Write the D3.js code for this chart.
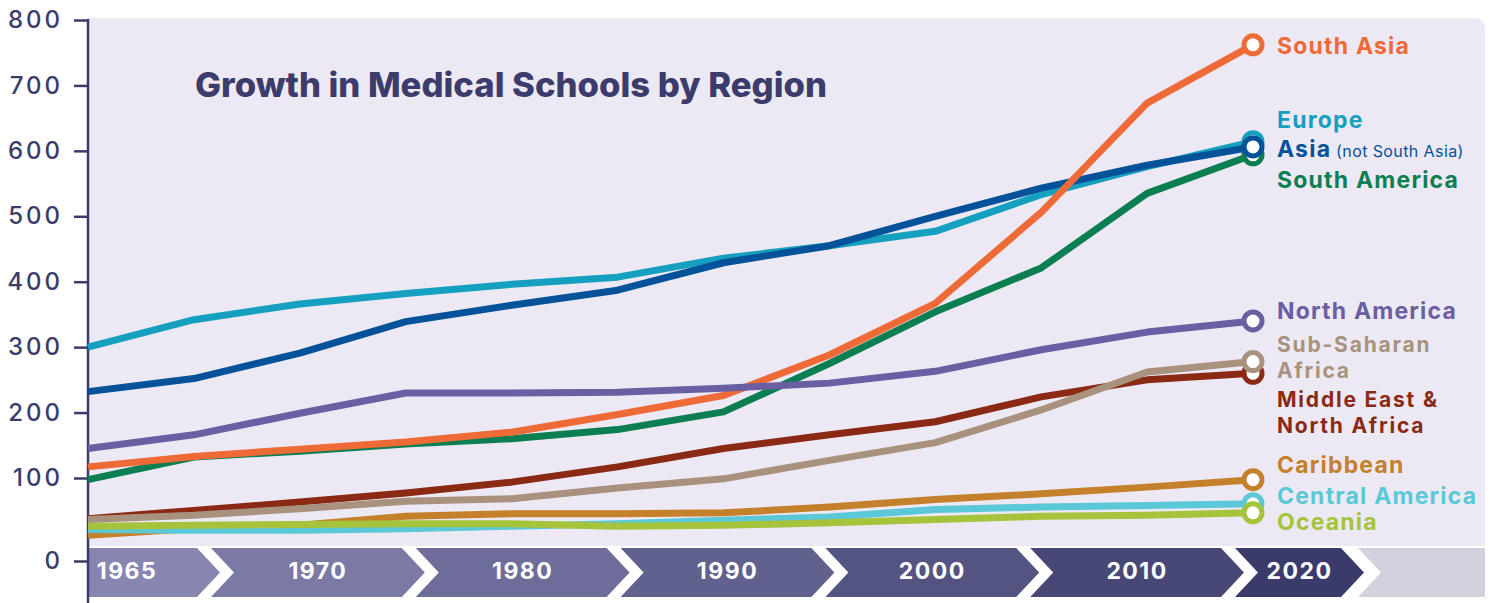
<!DOCTYPE html>
<html>
<head>
    <meta charset="utf-8">
    <title>Growth in Medical Schools by Region</title>
    <style>
        body { margin: 0; background: #fff; }
        svg { display: block; font-family: Inter, "Open Sans", sans-serif; }
    </style>
    <script src="https://cdn.jsdelivr.net/npm/d3@7/dist/d3.min.js"></script>
</head>
<body>
<script>

    // data (number of medical schools)
    var years = [1965, 1970, 1975, 1980, 1985, 1990, 1995, 2000, 2005, 2010, 2015, 2020]
    var southAsia      = [117, 133, 144, 155, 170, 197, 226, 288, 367, 506, 673, 762]
    var europe         = [300, 342, 366, 382, 396, 407, 436, 455, 477, 533, 576, 614]
    var asia           = [232, 252, 291, 339, 364, 387, 429, 455, 500, 543, 578, 606]
    var southAmerica   = [98, 132, 141, 152, 160, 174, 201, 275, 354, 421, 535, 594]
    var northAmerica   = [145, 166, 199, 230, 230, 231, 237, 245, 263, 296, 323, 340]
    var subSaharan     = [50, 55, 63, 72, 75, 88, 99, 127, 154, 204, 262, 278]
    var middleEast     = [51, 61, 71, 82, 95, 117, 145, 166, 186, 224, 250, 260]
    var caribbean      = [31, 39, 43, 54, 57, 57, 58, 65, 74, 81, 89, 98]
    var centralAmerica = [38, 37, 37, 39, 42, 45, 49, 53, 62, 65, 67, 69]
    var oceania        = [42, 43, 44, 45, 45, 42, 43, 46, 50, 54, 55, 58]

    var yTicks = [0, 100, 200, 300, 400, 500, 600, 700, 800]
    var periodLabels = ['1965', '1970', '1980', '1990', '2000', '2010', '2020']
    var title = 'Growth in Medical Schools by Region'

    // drawing order: bottom first
    var series = [
        {name: 'Europe', values: europe, color: '#16a0bf', label: ['Europe'], nudge: -14},
        {name: 'South America', values: southAmerica, color: '#0c7f52', label: ['South America'], nudge: 33},
        {name: 'Asia', values: asia, color: '#04539a', label: ['Asia'], note: ' (not South Asia)', nudge: 10},
        {name: 'South Asia', values: southAsia, color: '#ee6a36', label: ['South Asia'], nudge: 9},
        {name: 'North America', values: northAmerica, color: '#6a5fa3', label: ['North America'], nudge: -2},
        {name: 'Middle East', values: middleEast, color: '#8a2a14', label: ['Middle East &', 'North Africa'], nudge: 34},
        {name: 'Sub-Saharan Africa', values: subSaharan, color: '#a8927e', label: ['Sub-Saharan', 'Africa'], nudge: -10},
        {name: 'Caribbean', values: caribbean, color: '#c4802a', label: ['Caribbean'], nudge: -7},
        {name: 'Central America', values: centralAmerica, color: '#5bc8d7', label: ['Central America'], nudge: 0},
        {name: 'Oceania', values: oceania, color: '#a5c33b', label: ['Oceania'], nudge: 17}
    ]

    var view_width = 1494,
        view_height = 603,
        axis_x = 88,
        panel_top = 18,
        panel_right = 1485,
        band_top = 548,
        band_bottom = 597

    var navy = '#3b3c6c'

    var svg = d3.select('body').append('svg')
        .attr('width', view_width)
        .attr('height', view_height)

    var x = d3.scaleLinear().domain([1965, 2020]).range([axis_x, 1253])
    // the value axis is stretched below 100 in the original
    var y = d3.scaleLinear().domain([0, 100, 800]).range([561, 478, 20])

    // lavender panel, rounded at top right only
    var r = 12
    svg.append('path')
        .attr('d', 'M' + axis_x + ',' + panel_top +
            'H' + (panel_right - r) +
            'Q' + panel_right + ',' + panel_top + ' ' + panel_right + ',' + (panel_top + r) +
            'V' + band_bottom + 'H' + axis_x + 'Z')
        .attr('fill', '#ece9f4')

    // title
    svg.append('text')
        .attr('x', 195)
        .attr('y', 97)
        .attr('fill', navy)
        .attr('font-size', 34)
        .attr('font-weight', 800)
        .attr('textLength', 632)
        .attr('lengthAdjust', 'spacingAndGlyphs')
        .text(title)

    // period band at the bottom
    svg.append('rect')
        .attr('x', axis_x).attr('y', band_top - 2)
        .attr('width', view_width - axis_x).attr('height', view_height - band_top + 2)
        .attr('fill', '#ffffff')

    var bandScale = d3.scaleLinear().domain([0, 5]).range([197, 1221])
    var gap = 14, tip = 23, mid = (band_top + band_bottom) / 2
    var shade = d3.interpolateRgb('#8786b1', '#3b3b6b')

    var chevrons = periodLabels.map(function (lab, i) {
        var left = i === 0 ? axis_x : bandScale(i - 1) + gap
        var right = i === periodLabels.length - 1 ? bandScale(5) + 120 : bandScale(i)
        return {label: lab, left: left, right: right, i: i, notch: i > 0}
    })
    chevrons.push({label: '', left: bandScale(5) + 120 + gap + 3, right: panel_right, i: 7, notch: true, flat: true})

    var chev = svg.append('g').selectAll('g').data(chevrons).enter().append('g')
    chev.append('path')
        .attr('d', function (d) {
            var p = 'M' + d.left + ',' + band_top + 'H' + d.right
            p += d.flat ? 'V' + band_bottom : 'L' + (d.right + tip) + ',' + mid + 'L' + d.right + ',' + band_bottom
            p += 'H' + d.left
            if (d.notch) p += 'L' + (d.left + tip) + ',' + mid
            return p + 'Z'
        })
        .attr('fill', function (d) { return d.flat ? '#d4d1df' : shade(d.i / 6) })
    chev.append('text')
        .attr('x', function (d) { return d.i === 0 ? d.left + 39 : (d.left + d.right) / 2 + tip / 2 })
        .attr('y', 579)
        .attr('text-anchor', 'middle')
        .attr('fill', '#ffffff')
        .attr('font-size', 23)
        .attr('font-weight', 700)
        .attr('letter-spacing', 1.5)
        .text(function (d) { return d.label })

    // y axis
    var yAxis = d3.axisLeft(y).tickValues(yTicks).tickSize(14).tickPadding(11).tickSizeOuter(0)
    var ax = svg.append('g')
        .attr('transform', 'translate(' + axis_x + ',0)')
        .call(yAxis)
    ax.select('.domain').remove()
    ax.selectAll('.tick line').attr('stroke', navy).attr('stroke-width', 2.5)
    ax.selectAll('.tick text')
        .attr('fill', navy)
        .attr('font-size', 24)
        .attr('font-weight', 500)
        .attr('letter-spacing', 3)
        .attr('font-family', 'Inter, sans-serif')
    svg.append('line')
        .attr('x1', axis_x).attr('x2', axis_x)
        .attr('y1', y(800) - 1).attr('y2', view_height)
        .attr('stroke', navy).attr('stroke-width', 2.5)

    // lines
    var line = d3.line()
        .x(function (d, i) { return x(years[i]) })
        .y(function (d) { return y(d) })

    var g = svg.append('g')
    series.forEach(function (s) {
        g.append('path')
            .datum(s.values)
            .attr('d', line)
            .attr('fill', 'none')
            .attr('stroke', s.color)
            .attr('stroke-width', 7)
            .attr('stroke-linejoin', 'round')
    })
    series.forEach(function (s) {
        var last = s.values[s.values.length - 1]
        g.append('circle')
            .attr('cx', x(years[years.length - 1]))
            .attr('cy', y(last))
            .attr('r', 9)
            .attr('fill', '#ffffff')
            .attr('stroke', s.color)
            .attr('stroke-width', 5)
    })

    // end labels, one text per line so two-line labels stay apart
    series.forEach(function (s) {
        var last = s.values[s.values.length - 1]
        var twoLines = s.label.length > 1
        s.label.forEach(function (l, i) {
            var t = svg.append('text')
                .attr('x', 1277)
                .attr('y', y(last) + s.nudge + i * 26)
                .attr('fill', s.color)
                .attr('font-size', twoLines ? 21 : 23)
                .attr('font-weight', 700)
                .attr('letter-spacing', twoLines ? 1.8 : 1.2)
                .text(l)
            if (s.note && i === 0) {
                t.append('tspan')
                    .attr('font-size', 16)
                    .attr('font-weight', 400)
                    .attr('letter-spacing', 0.4)
                    .text(s.note)
            }
        })
    })

</script>
</body>
</html>
